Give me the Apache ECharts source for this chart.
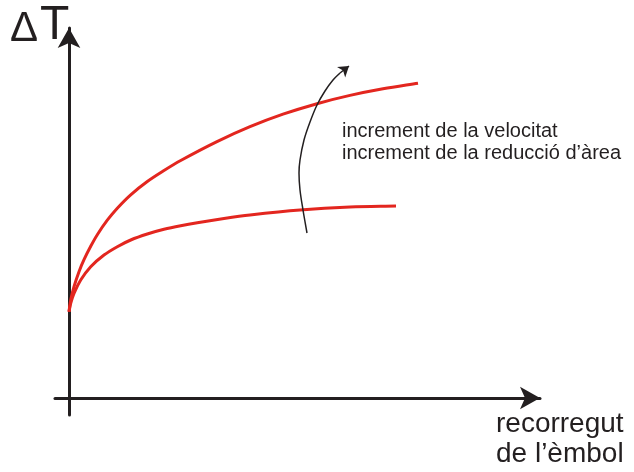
<!DOCTYPE html>
<html>
<head>
<meta charset="utf-8">
<script src="https://cdn.jsdelivr.net/npm/echarts@6/dist/echarts.min.js"></script>
<style>
html,body{margin:0;padding:0;background:#fff;}
#c{width:634px;height:472px;}
</style>
</head>
<body>
<div id="c"></div>
<script>
// Values (x = distance along travel, y = temperature rise, origin at axis crossing)
var upperCurve = [[0,86.3],[1.7,98],[5,111.3],[10,126.3],[15,138.3],[21.7,151.7],[28.3,163.3],[38.3,177.8],[48.3,189.8],[61.7,203.2],[78.3,216.5],[95,227.5],[111.7,237.5],[148,256.4],[181,271.3],[214,283.8],[248,294.3],[281,302.6],[314,309.2],[349,314.8]];
var lowerCurve = [[0,86.3],[1.7,94.7],[5,104.7],[11.7,118],[21.7,131.3],[35,143],[48.3,151.3],[61.7,158],[78.3,164],[95,168.7],[111.7,172.3],[128.3,175.3],[155,179.5],[181,183],[231,188],[281,191],[327,192]];
var trendArrow = [[238,165],[234,188],[231,208],[230,225],[231,238],[235,258],[241,276],[248,293],[256,307],[264,318],[271,325]];
var trendArrowTip = [[271,325],[280,332]];
var yLabel = ['Δ', 'T'];
var xLabel = 'recorregut\nde l’èmbol';
var noteText = 'increment de la velocitat\nincrement de la reducció d’àrea';

var ink = '#231f20';
var red = '#e3261f';

// Smooth spline (chord-length Catmull-Rom) through points mapped by the chart's own axes
function splineSeries(points, color, width) {
  return {
    type: 'custom',
    data: points,
    encode: {x: 0, y: 1},
    silent: true,
    renderItem: function (params, api) {
      if (params.dataIndex !== 0) return null;
      var p = points.map(function (d) { return api.coord(d); });
      var n = p.length, t = [0];
      for (var i = 1; i < n; i++) {
        t.push(t[i - 1] + Math.max(1e-6, Math.hypot(p[i][0] - p[i - 1][0], p[i][1] - p[i - 1][1])));
      }
      var m = [];
      for (var i = 0; i < n; i++) {
        var a = Math.max(0, i - 1), b = Math.min(n - 1, i + 1);
        var dt = t[b] - t[a];
        m.push([(p[b][0] - p[a][0]) / dt, (p[b][1] - p[a][1]) / dt]);
      }
      var d = 'M' + p[0][0] + ' ' + p[0][1];
      for (var i = 0; i < n - 1; i++) {
        var h = (t[i + 1] - t[i]) / 3;
        d += ' C' + (p[i][0] + m[i][0] * h) + ' ' + (p[i][1] + m[i][1] * h) + ' ' +
             (p[i + 1][0] - m[i + 1][0] * h) + ' ' + (p[i + 1][1] - m[i + 1][1] * h) + ' ' +
             p[i + 1][0] + ' ' + p[i + 1][1];
      }
      return {type: 'path', shape: {pathData: d}, style: {fill: 'none', stroke: color, lineWidth: width}};
    }
  };
}

var chart = echarts.init(document.getElementById('c'), null, {renderer: 'canvas'});
chart.setOption({
  animation: false,
  backgroundColor: '#ffffff',
  grid: {left: 55, right: 94, top: 28, bottom: 57},
  xAxis: {
    type: 'value', min: -14, max: 471,
    axisLine: {onZero: true, lineStyle: {color: ink, width: 3}, symbol: ['none', 'arrow'], symbolSize: [17, 20]},
    axisTick: {show: false}, axisLabel: {show: false}, splitLine: {show: false}
  },
  yAxis: {
    type: 'value', min: -17, max: 370,
    axisLine: {onZero: true, lineStyle: {color: ink, width: 3}, symbol: ['none', 'arrow'], symbolSize: [17, 20]},
    axisTick: {show: false}, axisLabel: {show: false}, splitLine: {show: false}
  },
  series: [
    splineSeries(upperCurve, red, 3),
    splineSeries(lowerCurve, red, 3),
    splineSeries(trendArrow, ink, 1.5),
    {type: 'lines', coordinateSystem: 'cartesian2d', data: [{coords: trendArrowTip}],
     symbol: ['none', 'arrow'], symbolSize: 10, lineStyle: {color: ink, width: 1.5, opacity: 1}}
  ],
  graphic: [
    {type: 'text', left: 10, top: 8, style: {text: yLabel[0], font: '42px "Liberation Sans", Arial, sans-serif', fill: ink}},
    {type: 'text', left: 40, top: 2, style: {text: yLabel[1], font: '48px "Liberation Sans", Arial, sans-serif', fill: ink}},
    {type: 'text', left: 496, top: 409, style: {text: xLabel, font: '28px "Liberation Sans", Arial, sans-serif', lineHeight: 30, fill: ink}},
    {type: 'text', left: 342, top: 120, style: {text: noteText, font: '20px "Liberation Sans", Arial, sans-serif', lineHeight: 22, fill: ink}}
  ]
});
</script>
</body>
</html>
